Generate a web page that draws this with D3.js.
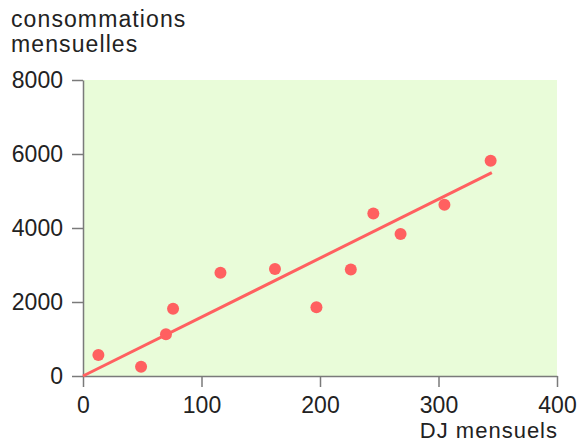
<!DOCTYPE html>
<html>
<head>
<meta charset="utf-8">
<script src="https://d3js.org/d3.v7.min.js"></script>
<style>
  body { margin: 0; background: #fff; }
  text { font-family: "Liberation Sans", Arial, sans-serif; fill: #222; }
</style>
</head>
<body>
<div id="chart"></div>
<script>
// donnees
var djMensuels = [13, 49, 70, 76, 116, 162, 197, 226, 245, 268, 305, 344];
var consommations = [570, 250, 1130, 1820, 2790, 2890, 1860, 2880, 4390, 3840, 4630, 5820];
var droiteX = [0, 345];
var droiteY = [0, 5495];
var xTicks = [0, 100, 200, 300, 400];
var yTicks = [0, 2000, 4000, 6000, 8000];

var width = 579, height = 443;
var margin = {top: 80, right: 22, bottom: 67, left: 83};

var svg = d3.select("#chart").append("svg")
    .attr("width", width)
    .attr("height", height);

var x = d3.scaleLinear().domain([0, 400]).range([margin.left, width - margin.right]);
var y = d3.scaleLinear().domain([0, 8000]).range([height - margin.bottom, margin.top]);

// fond du graphique
svg.append("rect")
    .attr("x", x(0))
    .attr("y", y(8000))
    .attr("width", x(400) - x(0))
    .attr("height", y(0) - y(8000))
    .style("fill", "#e9fcd9");

/*
 * axes
 */
var xAxis = svg.append("g")
    .attr("transform", "translate(0," + y(0) + ")")
    .call(d3.axisBottom(x).tickValues(xTicks).tickFormat(d3.format("d"))
        .tickSize(11).tickPadding(10).tickSizeOuter(0));
var yAxis = svg.append("g")
    .attr("transform", "translate(" + x(0) + ",0)")
    .call(d3.axisLeft(y).tickValues(yTicks).tickFormat(d3.format("d"))
        .tickSize(11).tickPadding(9).tickSizeOuter(0));

[xAxis, yAxis].forEach(function (g) {
    g.select(".domain").attr("stroke", "#7a7a7a").attr("stroke-width", 1.5);
    g.selectAll(".tick line").attr("stroke", "#7a7a7a").attr("stroke-width", 1.5);
    g.selectAll(".tick text")
        .style("font-family", "Liberation Sans, Arial, sans-serif")
        .style("font-size", "23px")
        .attr("fill", "#222");
});

// droite d'ajustement
svg.append("line")
    .attr("x1", x(droiteX[0]))
    .attr("y1", y(droiteY[0]))
    .attr("x2", x(droiteX[1]))
    .attr("y2", y(droiteY[1]))
    .attr("stroke", "#ff6060")
    .attr("stroke-width", 3);

// points
svg.selectAll("circle.pt")
    .data(djMensuels)
    .enter().append("circle")
    .attr("class", "pt")
    .attr("cx", function (d) { return x(d); })
    .attr("cy", function (d, i) { return y(consommations[i]); })
    .attr("r", 6)
    .style("fill", "#ff6060");

// titres
svg.append("text").attr("x", 11).attr("y", 27).style("font-size", "23px")
    .style("letter-spacing", "1.1px").text("consommations");
svg.append("text").attr("x", 11).attr("y", 52).style("font-size", "23px")
    .style("letter-spacing", "1.1px").text("mensuelles");
svg.append("text").attr("x", 558).attr("y", 438).attr("text-anchor", "end")
    .style("font-size", "22px").style("letter-spacing", "1px").text("DJ mensuels");
</script>
</body>
</html>
